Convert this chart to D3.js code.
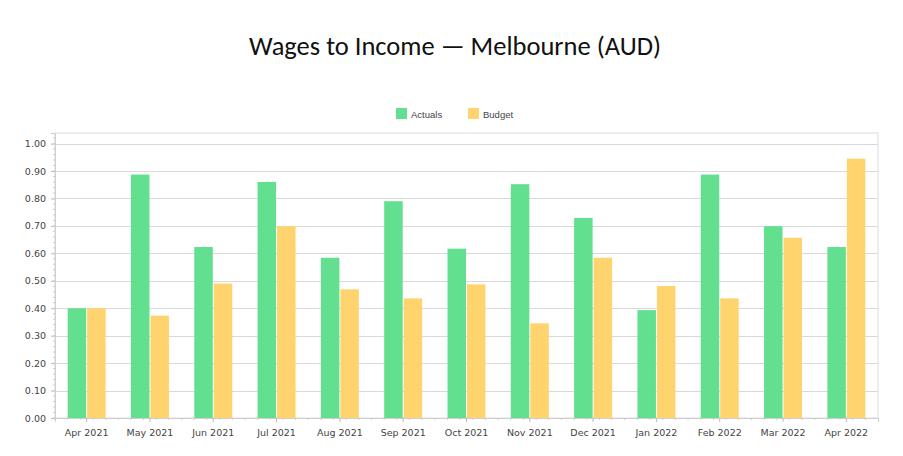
<!DOCTYPE html>
<html>
<head>
<meta charset="utf-8">
<script src="https://d3js.org/d3.v7.min.js"></script>
<style>
  html, body { margin: 0; padding: 0; background: #fff; }
  svg { display: block; }
</style>
</head>
<body>
<svg width="903" height="456"></svg>
<script>
// chart data
const months = ['Apr 2021', 'May 2021', 'Jun 2021', 'Jul 2021', 'Aug 2021', 'Sep 2021', 'Oct 2021',
  'Nov 2021', 'Dec 2021', 'Jan 2022', 'Feb 2022', 'Mar 2022', 'Apr 2022']
const actuals = [0.40, 0.887, 0.623, 0.86, 0.584, 0.79, 0.617, 0.852, 0.729, 0.393, 0.887, 0.699, 0.623]
const budget = [0.40, 0.373, 0.49, 0.699, 0.469, 0.436, 0.487, 0.345, 0.584, 0.481, 0.436, 0.657, 0.945]
const seriesNames = ['Actuals', 'Budget']
const yTicks = [0, 0.1, 0.2, 0.3, 0.4, 0.5, 0.6, 0.7, 0.8, 0.9, 1.0]

const colors = { Actuals: '#62e090', Budget: '#ffd46e' }
const rows = months.map((m, i) => ({ month: m, Actuals: actuals[i], Budget: budget[i] }))

const svg = d3.select('svg')
const margin = { top: 133, right: 25, bottom: 38, left: 55 }
const width = 903 - margin.left - margin.right
const height = 456 - margin.top - margin.bottom
const font = 'Tahoma, "DejaVu Sans", sans-serif'

// title
svg.append('text')
    .attr('x', 455)
    .attr('y', 55)
    .attr('text-anchor', 'middle')
    .style('font-family', 'Carlito, Lato, sans-serif')
    .style('font-size', '26.5px')
    .attr('fill', '#111')
    .text('Wages to Income \u2014 Melbourne (AUD)')

// legend
const legend = svg.append('g')
const legendX = [396, 468]
seriesNames.forEach((s, i) => {
  legend.append('rect')
      .attr('x', legendX[i]).attr('y', 108)
      .attr('width', 11).attr('height', 11)
      .attr('fill', colors[s])
  legend.append('text')
      .attr('x', legendX[i] + 15).attr('y', 117.5)
      .style('font-family', '"Liberation Sans", sans-serif')
      .style('font-size', '9.5px')
      .attr('fill', '#444')
      .text(s)
})

const g = svg.append('g').attr('transform', 'translate(' + margin.left + ',' + margin.top + ')')

const x0 = d3.scaleBand().domain(months).range([0, width]).paddingInner(0.4).paddingOuter(0.2)
const x1 = d3.scaleBand().domain(seriesNames).range([0, x0.bandwidth()]).paddingInner(0.05)
const y = d3.scaleLinear().domain([0, 1.0385]).range([height, 0])

// frame
g.append('rect')
    .attr('width', width).attr('height', height)
    .attr('fill', 'none').attr('stroke', '#dcdcdc')

// gridlines
g.append('g')
  .selectAll('line')
  .data(yTicks.slice(1))
  .join('line')
    .attr('x1', 0).attr('x2', width)
    .attr('y1', d => Math.round(y(d)) + 0.5).attr('y2', d => Math.round(y(d)) + 0.5)
    .attr('stroke', '#d9d9d9')

// bars
g.append('g')
  .selectAll('g')
  .data(rows)
  .join('g')
    .attr('transform', d => 'translate(' + x0(d.month) + ',0)')
  .selectAll('rect')
  .data(d => seriesNames.map(s => ({ key: s, value: d[s] })))
  .join('rect')
    .attr('x', d => x1(d.key))
    .attr('y', d => y(d.value))
    .attr('width', x1.bandwidth())
    .attr('height', d => y(0) - y(d.value))
    .attr('fill', d => colors[d.key])

// y axis
const yAxis = g.append('g')
    .call(d3.axisLeft(y).tickValues(yTicks).tickFormat(d3.format('.2f')).tickSize(4).tickPadding(5))
yAxis.select('.domain').attr('stroke', '#cfcfcf')
yAxis.selectAll('.tick line').attr('stroke', '#bbb')
yAxis.selectAll('text')
    .style('font-family', font).style('font-size', '9.5px').attr('fill', '#444')
const yMinor = d3.range(0, 1.03, 0.02)
yAxis.append('g').selectAll('line')
  .data(yMinor)
  .join('line')
    .attr('x1', -2).attr('x2', 0)
    .attr('y1', d => y(d)).attr('y2', d => y(d))
    .attr('stroke', '#ccc')

// x axis
const xAxis = g.append('g')
    .attr('transform', 'translate(0,' + height + ')')
    .call(d3.axisBottom(x0).tickSize(4).tickPadding(7))
xAxis.select('.domain').attr('stroke', '#cfcfcf')
xAxis.selectAll('.tick line').attr('stroke', '#bbb')
xAxis.selectAll('text')
    .style('font-family', font).style('font-size', '9.5px').attr('fill', '#444')
const step = x0.step()
const xMinor = d3.range(0, width, step / 5)
xAxis.append('g').selectAll('line')
  .data(xMinor)
  .join('line')
    .attr('x1', d => d).attr('x2', d => d)
    .attr('y1', 0).attr('y2', 2)
    .attr('stroke', '#ccc')
</script>
</body>
</html>
